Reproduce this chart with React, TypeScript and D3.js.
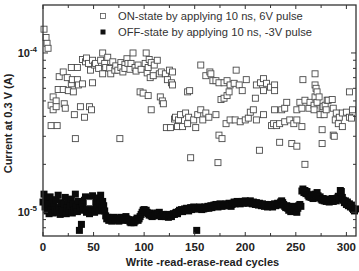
import { useEffect, useRef } from "react";
import * as d3 from "d3";

// ON-state reads (cycle index, current in units of 1e-5 A)
const onCycles = [
  1, 3, 4, 5, 8, 8, 10, 10, 13, 13, 14, 15, 16, 20, 20, 21, 22, 24, 25, 28,
  28, 29, 30, 31, 32, 34, 34, 35, 37, 39, 39, 41, 42, 43, 45, 46, 46, 47, 48, 49,
  49, 51, 52, 55, 57, 59, 59, 61, 62, 64, 66, 67, 69, 71, 72, 74, 76, 77, 77, 79,
  81, 81, 83, 84, 86, 87, 89, 91, 92, 94, 96, 97, 99, 101, 102, 103, 104, 104, 105, 106,
  107, 107, 109, 110, 113, 115, 116, 117, 118, 119, 121, 122, 123, 125, 126, 127, 128, 128, 130, 131,
  133, 134, 136, 138, 141, 143, 143, 144, 145, 146, 149, 151, 153, 156, 156, 158, 161, 161, 164, 165,
  166, 168, 171, 171, 173, 174, 174, 176, 177, 179, 179, 181, 182, 182, 184, 185, 185, 189, 190, 191,
  194, 195, 197, 200, 201, 203, 205, 208, 210, 211, 211, 214, 215, 218, 218, 218, 221, 225, 226, 228,
  229, 229, 229, 231, 234, 234, 236, 239, 239, 241, 244, 246, 248, 251, 251, 251, 254, 256, 256, 257,
  259, 259, 263, 264, 268, 268, 269, 269, 269, 270, 271, 271, 273, 274, 276, 276, 276, 277, 278, 279,
  280, 281, 282, 286, 287, 287, 288, 289, 290, 292, 293, 296, 296, 300, 303, 303, 305, 306,
];
const onCurrent = [
  14.1, 12.5, 11.5, 10.7, 4.7, 3.5, 5.3, 4.4, 5.0, 4.6, 3.5, 5.9, 7.1, 7.6, 5.9, 4.8, 4.5, 7.0, 5.8, 8.1,
  6.4, 6.8, 5.7, 4.1, 2.9, 8.1, 6.8, 6.3, 4.6, 9.1, 6.4, 3.95, 8.8, 9.3, 8.6, 4.6, 1.15, 7.8, 4.4, 9.0,
  6.5, 8.4, 8.6, 8.0, 9.0, 10.0, 7.4, 8.6, 8.1, 9.4, 8.0, 7.4, 8.8, 7.8, 8.3, 7.8, 2.9, 8.7, 8.1, 7.6,
  8.5, 8.0, 9.2, 8.6, 7.9, 8.6, 10.0, 8.1, 7.7, 8.4, 5.7, 7.9, 5.6, 8.6, 10.0, 7.5, 8.1, 5.4, 9.1, 7.0,
  8.7, 4.4, 7.2, 8.4, 9.0, 7.4, 5.3, 7.6, 5.0, 4.8, 7.4, 3.4, 6.8, 7.8, 3.4, 6.5, 6.3, 7.6, 3.85, 3.95,
  3.45, 3.8, 4.1, 3.45, 4.2, 3.6, 5.7, 3.95, 5.8, 2.2, 3.8, 3.4, 4.1, 4.4, 8.4, 3.8, 4.2, 7.2, 3.95, 7.6,
  7.4, 6.7, 6.7, 4.1, 2.05, 6.5, 3.05, 5.1, 2.9, 6.5, 5.2, 3.6, 6.7, 5.4, 5.7, 6.3, 3.8, 6.45, 3.8, 7.8,
  6.3, 3.7, 5.8, 3.8, 6.8, 3.9, 4.25, 4.4, 5.2, 6.3, 3.8, 2.45, 6.5, 6.9, 5.8, 4.1, 6.45, 6.1, 3.5, 3.6,
  6.3, 5.8, 4.4, 3.5, 3.6, 2.75, 4.4, 4.5, 3.7, 4.9, 3.8, 2.7, 3.6, 4.4, 3.8, 2.6, 4.9, 4.5, 3.45, 6.8,
  5.05, 2.0, 4.5, 4.9, 4.7, 4.4, 7.4, 6.3, 5.3, 6.0, 5.7, 4.9, 5.3, 4.1, 4.5, 3.3, 2.7, 4.6, 4.1, 4.7,
  4.4, 5.05, 5.05, 5.1, 4.5, 3.05, 3.0, 3.8, 4.2, 3.6, 3.95, 4.2, 3.45, 4.25, 5.7, 3.95, 3.9, 4.4,
];

// OFF-state reads, one per cycle from 0 (units of 1e-5 A)
const offCurrent = [
  1.16, 1.3, 1.08, 1.22, 1.02, 1.12, 0.98, 1.25, 1.05, 1.14,
  0.99, 1.1, 1.04, 1.2, 1.0, 1.28, 1.07, 0.97, 1.15, 1.03,
  1.0, 1.12, 1.24, 0.98, 1.06, 1.18, 1.02, 1.09, 1.21, 0.99,
  1.13, 1.04, 1.3, 1.08, 1.01, 1.17, 0.77, 1.06, 0.84, 1.12,
  1.03, 1.19, 1.25, 1.0, 1.1, 1.15, 0.98, 1.22, 1.05, 1.27,
  1.11, 1.0, 1.18, 1.06, 1.23, 1.02, 1.14, 1.28, 1.08, 1.17,
  1.1, 1.02, 0.95, 0.91, 0.93, 0.89, 0.92, 0.9, 0.88, 0.91,
  0.93, 0.9, 0.89, 0.92, 0.91, 0.88, 0.9, 0.93, 0.91, 0.89,
  0.92, 0.9, 0.94, 0.91, 0.89, 0.9, 0.87, 0.86, 0.88, 0.89,
  0.86, 0.88, 0.9, 0.92, 0.89, 0.91, 0.94, 0.97, 1.0, 1.03,
  1.04, 1.01, 1.03, 1.0, 0.98, 0.96, 0.99, 0.95, 0.94, 0.97,
  0.95, 0.96, 0.98, 0.99, 0.97, 1.0, 0.96, 0.94, 0.95, 0.97,
  0.96, 0.94, 0.95, 0.97, 0.93, 0.95, 0.96, 0.94, 0.97, 0.98,
  0.97, 0.99, 1.0, 0.98, 1.01, 1.03, 1.02, 1.04, 1.01, 1.03,
  1.05, 1.03, 1.06, 1.04, 1.02, 1.05, 1.07, 1.04, 1.06, 1.08,
  1.06, 1.05, 0.77, 1.07, 1.05, 1.08, 1.06, 1.04, 1.07, 1.05,
  1.08, 1.06, 1.07, 1.09, 1.06, 1.08, 1.1, 1.07, 1.09, 1.11,
  1.09, 1.12, 1.1, 1.08, 1.11, 1.13, 1.1, 1.09, 1.12, 1.1,
  1.11, 1.13, 1.1, 1.12, 1.14, 1.11, 1.09, 1.12, 1.14, 1.16,
  1.13, 1.15, 1.17, 1.14, 1.16, 1.13, 1.15, 1.17, 1.14, 1.16,
  1.18, 1.15, 1.17, 1.14, 1.16, 1.18, 1.15, 1.13, 1.16, 1.14,
  1.12, 1.15, 1.13, 1.11, 1.14, 1.12, 1.1, 1.13, 1.11, 1.09,
  1.12, 1.1, 1.08, 1.11, 1.09, 1.12, 1.1, 1.08, 1.11, 1.13,
  1.1, 1.12, 1.14, 1.11, 1.13, 1.16, 1.18, 1.15, 1.12, 1.09,
  1.07, 1.1, 1.06, 1.03, 1.08, 1.01, 1.05, 1.09, 1.04, 1.07,
  1.02, 1.0, 1.06, 1.1, 1.12, 1.09, 1.36, 1.4, 1.33, 1.37,
  1.31, 1.35, 1.28, 1.25, 1.29, 1.24, 1.27, 1.22, 1.26, 1.3,
  1.28, 1.33, 1.27, 1.23, 1.25, 1.21, 1.19, 1.22, 1.18, 1.2,
  1.17, 1.21, 1.19, 1.16, 1.2, 1.18, 1.22, 1.17, 1.19, 1.21,
  1.18, 1.23, 1.26, 1.21, 1.37, 1.35, 1.24, 1.19, 1.15, 1.18,
  1.12, 1.16, 1.1, 1.13, 1.08, 1.11, 1.06, 1.04, 1.02, 1.05,
];

const xTickLabels = [0, 50, 100, 150, 200, 250, 300];
const xMinorTicks = [25, 75, 125, 175, 225, 275];
const yMajorTicks = [1e-5, 1e-4];
const yExponents = ["-5", "-4"];
const yMinorTicks = [8e-6, 9e-6, 2e-5, 3e-5, 4e-5, 5e-5, 6e-5, 7e-5, 8e-5, 9e-5];

const legendLabels = [
  "ON-state by applying 10 ns, 6V pulse",
  "OFF-state by applying 10 ns, -3V pulse",
];

const App = () => {
  const svgRef = useRef<SVGSVGElement>(null);

  useEffect(() => {
    const width = 359;
    const height = 271;
    const margin = { top: 5, right: 3, bottom: 35, left: 43 };
    const font = "Arial, 'Liberation Sans', sans-serif";

    const svg = d3.select(svgRef.current);
    svg.selectAll("*").remove();
    svg.attr("width", width).attr("height", height);

    svg.append("rect").attr("width", width).attr("height", height).attr("fill", "white");

    const x = d3
      .scaleLinear()
      .domain([0, 309.5])
      .range([margin.left, width - margin.right]);
    const y = d3
      .scaleLog()
      .domain([7.1e-6, 2e-4])
      .range([height - margin.bottom, margin.top]);

    const x0 = margin.left;
    const x1 = width - margin.right;
    const y0 = height - margin.bottom;
    const y1 = margin.top;
    const axisColor = "#333";

    // OFF-state: filled squares
    const offSize = 7;
    svg
      .append("g")
      .selectAll("rect")
      .data(offCurrent)
      .join("rect")
      .attr("x", (_, i) => x(i) - offSize / 2)
      .attr("y", (d) => y(d * 1e-5) - offSize / 2)
      .attr("width", offSize)
      .attr("height", offSize)
      .attr("fill", "#0a0a0a");

    // ON-state: open squares
    const onSize = 6;
    svg
      .append("g")
      .selectAll("rect")
      .data(onCurrent)
      .join("rect")
      .attr("x", (_, i) => x(onCycles[i]) - onSize / 2)
      .attr("y", (d) => y(d * 1e-5) - onSize / 2)
      .attr("width", onSize)
      .attr("height", onSize)
      .attr("fill", "white")
      .attr("stroke", "#4a4a4a")
      .attr("stroke-width", 0.9);

    // frame
    svg
      .append("rect")
      .attr("x", x0)
      .attr("y", y1)
      .attr("width", x1 - x0)
      .attr("height", y0 - y1)
      .attr("fill", "none")
      .attr("stroke", axisColor)
      .attr("stroke-width", 1.3);

    const ticks = svg.append("g").attr("stroke", axisColor).attr("stroke-width", 1);

    // x ticks, bottom and top, pointing inward
    const xTick = (v: number, len: number) => {
      ticks.append("line").attr("x1", x(v)).attr("x2", x(v)).attr("y1", y0).attr("y2", y0 - len);
      ticks.append("line").attr("x1", x(v)).attr("x2", x(v)).attr("y1", y1).attr("y2", y1 + len);
    };
    xTickLabels.forEach((v) => xTick(v, 4));
    xMinorTicks.forEach((v) => xTick(v, 3));

    // y ticks, left and right
    const yTick = (v: number, len: number) => {
      ticks.append("line").attr("x1", x0).attr("x2", x0 + len).attr("y1", y(v)).attr("y2", y(v));
      ticks.append("line").attr("x1", x1).attr("x2", x1 - len).attr("y1", y(v)).attr("y2", y(v));
    };
    yMajorTicks.forEach((v) => yTick(v, 5));
    yMinorTicks.forEach((v) => yTick(v, 3));

    // x tick labels
    svg
      .append("g")
      .selectAll("text")
      .data(xTickLabels)
      .join("text")
      .attr("x", (d) => x(d))
      .attr("y", y0 + 15)
      .attr("text-anchor", "middle")
      .attr("font-family", font)
      .attr("font-weight", "bold")
      .attr("font-size", 11.5)
      .attr("fill", "#222")
      .text((d) => d);

    // y tick labels with superscript exponent
    yMajorTicks.forEach((v, i) => {
      const t = svg
        .append("text")
        .attr("x", x0 - 6)
        .attr("y", y(v) + 4)
        .attr("text-anchor", "end")
        .attr("font-family", font)
        .attr("font-weight", "bold")
        .attr("font-size", 11)
        .attr("fill", "#222");
      t.append("tspan").text("10");
      t.append("tspan").attr("dy", -5).attr("font-size", 8).text(yExponents[i]);
    });

    // axis titles
    svg
      .append("text")
      .attr("x", (x0 + x1) / 2 + 3)
      .attr("y", height - 5)
      .attr("text-anchor", "middle")
      .attr("font-family", font)
      .attr("font-weight", "bold")
      .attr("font-size", 11)
      .attr("fill", "#222")
      .text("Write -read-erase-read cycles");

    svg
      .append("text")
      .attr("transform", `translate(12, ${(y0 + y1) / 2 + 3}) rotate(-90)`)
      .attr("text-anchor", "middle")
      .attr("font-family", font)
      .attr("font-weight", "bold")
      .attr("font-size", 11)
      .attr("fill", "#222")
      .text("Current at 0.3 V (A)");

    // legend
    const legend = svg.append("g").attr("transform", "translate(103, 16)");
    legendLabels.forEach((label, i) => {
      const row = legend.append("g").attr("transform", `translate(0, ${i * 16})`);
      if (i === 0) {
        row
          .append("rect")
          .attr("x", -2.5)
          .attr("y", -2.5)
          .attr("width", 5)
          .attr("height", 5)
          .attr("fill", "white")
          .attr("stroke", "#555")
          .attr("stroke-width", 0.8);
      } else {
        row
          .append("rect")
          .attr("x", -2.5)
          .attr("y", -2.5)
          .attr("width", 5)
          .attr("height", 5)
          .attr("fill", "#111");
      }
      row
        .append("text")
        .attr("x", 15)
        .attr("y", 4)
        .attr("font-family", font)
        .attr("font-size", 11.2)
        .attr("fill", "#333")
        .text(label);
    });
  }, []);

  return (
    <div style={{ position: "fixed", left: 0, top: 0 }}>
      <svg ref={svgRef} style={{ display: "block" }} />
    </div>
  );
};

export default App;
